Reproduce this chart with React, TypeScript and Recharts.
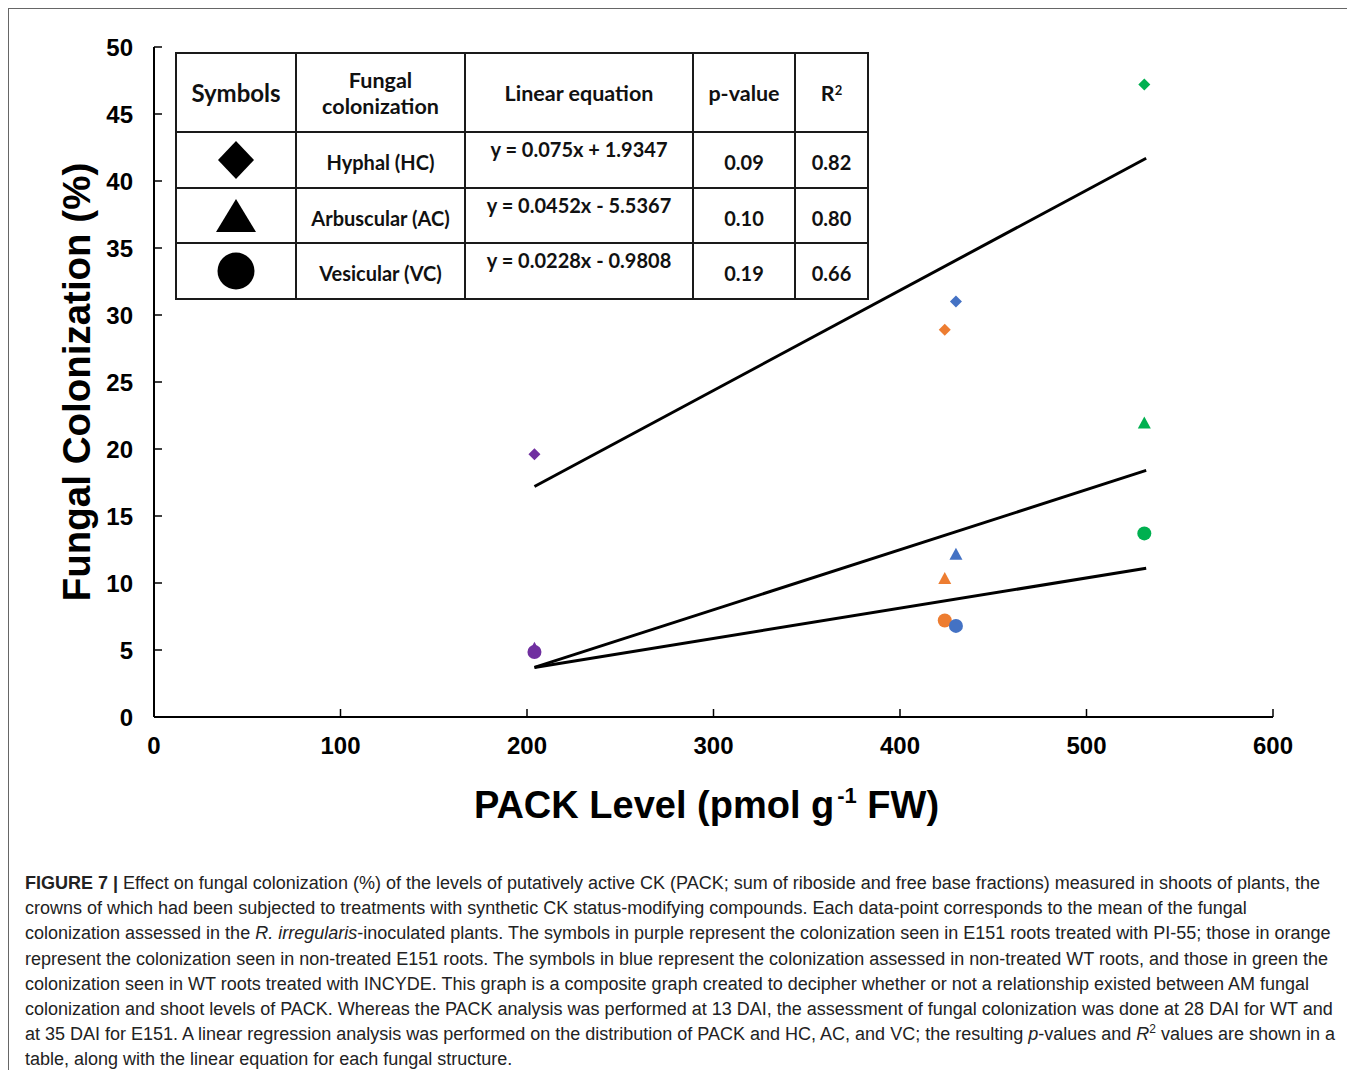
import React from 'react';
import { ScatterChart, Scatter, XAxis, YAxis, Cell } from 'recharts';

// treatments: E151 + PI-55, non-treated E151, non-treated WT, WT + INCYDE
const treatmentColors = ['#7030A0', '#ED7D31', '#4472C4', '#00B050'];
const packLevel = [204, 424, 430, 531];
const hyphal = [19.6, 28.9, 31.0, 47.2];
const arbuscular = [5.1, 10.3, 12.1, 21.9];
const vesicular = [4.85, 7.2, 6.8, 13.7];

// regression line end points
const fitPack = [204, 532];
const hcFit = [17.2, 41.7];
const acFit = [3.7, 18.4];
const vcFit = [3.7, 11.1];

const xTicks = [0, 100, 200, 300, 400, 500, 600];
const yTicks = [0, 5, 10, 15, 20, 25, 30, 35, 40, 45, 50];

const structures = ['Hyphal (HC)', 'Arbuscular (AC)', 'Vesicular (VC)'];
const equations = ['y = 0.075x + 1.9347', 'y = 0.0452x - 5.5367', 'y = 0.0228x - 0.9808'];
const pValues = ['0.09', '0.10', '0.19'];
const rSquared = ['0.82', '0.80', '0.66'];

const toPoints = (ys: number[]) => packLevel.map((x, i) => ({ x, y: ys[i], color: treatmentColors[i] }));
const toLine = (ys: number[]) => fitPack.map((x, i) => ({ x, y: ys[i] }));

const DiamondShape = (props: any) => {
  const { cx, cy, fill } = props;
  const r = 6;
  return <polygon points={`${cx},${cy - r} ${cx + r},${cy} ${cx},${cy + r} ${cx - r},${cy}`} fill={fill} />;
};

const TriangleShape = (props: any) => {
  const { cx, cy, fill } = props;
  return <polygon points={`${cx},${cy - 7} ${cx + 6.5},${cy + 5} ${cx - 6.5},${cy + 5}`} fill={fill} />;
};

const CircleShape = (props: any) => {
  const { cx, cy, fill } = props;
  return <circle cx={cx} cy={cy} r={7} fill={fill} />;
};

const NoShape = () => <g />;

const tickStyle = { fontFamily: 'Liberation Sans, Arial, sans-serif', fontSize: 24, fontWeight: 700, fill: '#000' };

const SymbolIcon = ({ kind }: { kind: string }) => (
  <svg width={44} height={42} style={{ display: 'block', margin: '0 auto' }}>
    {kind === 'diamond' && <polygon points="22,2 40,21 22,40 4,21" fill="#000" />}
    {kind === 'triangle' && <polygon points="22,4 42,37 2,37" fill="#000" />}
    {kind === 'circle' && <circle cx={22} cy={21} r={18.5} fill="#000" />}
  </svg>
);

const cellBorder = '2px solid #1a1a1a';

const StatsTable = () => {
  const kinds = ['diamond', 'triangle', 'circle'];
  const rowHeights = [56, 55, 56];
  const td: React.CSSProperties = { border: cellBorder, textAlign: 'center', verticalAlign: 'middle', padding: 0 };
  const th: React.CSSProperties = { ...td, fontSize: 21.5 };
  return (
    <table
      style={{
        position: 'absolute',
        left: 166,
        top: 43,
        borderCollapse: 'collapse',
        tableLayout: 'fixed',
        background: '#fff',
        fontFamily: 'Lato, "Open Sans", sans-serif',
        fontWeight: 700,
        fontSize: 20,
        color: '#111',
        lineHeight: '26px',
      }}
    >
      <colgroup>
        <col style={{ width: 120 }} />
        <col style={{ width: 169 }} />
        <col style={{ width: 228 }} />
        <col style={{ width: 102 }} />
        <col style={{ width: 73 }} />
      </colgroup>
      <tbody>
        <tr style={{ height: 79 }}>
          <td style={{ ...th, fontSize: 24 }}>Symbols</td>
          <td style={th}>Fungal<br />colonization</td>
          <td style={th}>Linear equation</td>
          <td style={th}>p-value</td>
          <td style={th}>R<sup style={{ fontSize: 13, verticalAlign: 'top', lineHeight: '20px' }}>2</sup></td>
        </tr>
        {structures.map((s, i) => (
          <tr key={s} style={{ height: rowHeights[i] }}>
            <td style={td}><SymbolIcon kind={kinds[i]} /></td>
            <td style={{ ...td, paddingTop: 4 }}>{s}</td>
            <td style={{ ...td, verticalAlign: 'top', paddingTop: 3 }}>{equations[i]}</td>
            <td style={{ ...td, paddingTop: 4 }}>{pValues[i]}</td>
            <td style={{ ...td, paddingTop: 4 }}>{rSquared[i]}</td>
          </tr>
        ))}
      </tbody>
    </table>
  );
};

const captionLines: React.ReactNode[] = [
  <><b>FIGURE 7 |</b> Effect on fungal colonization (%) of the levels of putatively active CK (PACK; sum of riboside and free base fractions) measured in shoots of plants, the</>,
  <>crowns of which had been subjected to treatments with synthetic CK status-modifying compounds. Each data-point corresponds to the mean of the fungal</>,
  <>colonization assessed in the <i>R. irregularis</i>-inoculated plants. The symbols in purple represent the colonization seen in E151 roots treated with PI-55; those in orange</>,
  <>represent the colonization seen in non-treated E151 roots. The symbols in blue represent the colonization assessed in non-treated WT roots, and those in green the</>,
  <>colonization seen in WT roots treated with INCYDE. This graph is a composite graph created to decipher whether or not a relationship existed between AM fungal</>,
  <>colonization and shoot levels of PACK. Whereas the PACK analysis was performed at 13 DAI, the assessment of fungal colonization was done at 28 DAI for WT and</>,
  <>at 35 DAI for E151. A linear regression analysis was performed on the distribution of PACK and HC, AC, and VC; the resulting <i>p</i>-values and <i>R</i><sup style={{ fontSize: 12, lineHeight: 0 }}>2</sup> values are shown in a</>,
  <>table, along with the linear equation for each fungal structure.</>,
];

export default function App() {
  return (
    <div
      style={{
        position: 'relative',
        width: 1340,
        height: 1062,
        borderLeft: '1px solid #666',
        borderTop: '1px solid #666',
        boxSizing: 'border-box',
        background: '#fff',
      }}
    >
      <div style={{ position: 'absolute', left: 0, top: 0 }}>
        <ScatterChart width={1330} height={860} margin={{ top: 38, right: 66, bottom: 122, left: 85 }}>
          <XAxis
            type="number"
            dataKey="x"
            domain={[0, 600]}
            ticks={xTicks}
            height={30}
            axisLine={{ stroke: '#000', strokeWidth: 2 }}
            tickLine={{ stroke: '#000', strokeWidth: 1.5 }}
            tickSize={-8}
            tickMargin={28}
            tick={tickStyle}
            label={{
              content: (p: any) => {
                const vb = p.viewBox;
                return (
                  <text
                    x={vb.x + vb.width / 2 - 7}
                    y={vb.y + 101}
                    textAnchor="middle"
                    style={{ fontFamily: 'Liberation Sans, Arial, sans-serif', fontSize: 38, fontWeight: 700, fill: '#000' }}
                  >
                    PACK Level (pmol g<tspan fontSize={22} dy={-15} dx={3}>-1</tspan>
                    <tspan dy={15}> FW)</tspan>
                  </text>
                );
              },
            }}
          />
          <YAxis
            type="number"
            dataKey="y"
            domain={[0, 50]}
            ticks={yTicks}
            width={60}
            axisLine={{ stroke: '#000', strokeWidth: 2 }}
            tickLine={{ stroke: '#000', strokeWidth: 1.5 }}
            tickSize={-8}
            tickMargin={29}
            tick={tickStyle}
            label={{
              content: (p: any) => {
                const vb = p.viewBox;
                const cx = vb.x - 4;
                const cy = vb.y + vb.height / 2;
                return (
                  <text
                    x={cx}
                    y={cy}
                    textAnchor="middle"
                    transform={`rotate(-90 ${cx} ${cy})`}
                    style={{ fontFamily: 'Liberation Sans, Arial, sans-serif', fontSize: 38.5, fontWeight: 700, fill: '#000' }}
                  >
                    Fungal Colonization (%)
                  </text>
                );
              },
            }}
          />
          <Scatter data={toLine(hcFit)} line={{ stroke: '#000', strokeWidth: 3 }} shape={NoShape} isAnimationActive={false} />
          <Scatter data={toLine(acFit)} line={{ stroke: '#000', strokeWidth: 3 }} shape={NoShape} isAnimationActive={false} />
          <Scatter data={toLine(vcFit)} line={{ stroke: '#000', strokeWidth: 3 }} shape={NoShape} isAnimationActive={false} />
          <Scatter data={toPoints(hyphal)} shape={DiamondShape} isAnimationActive={false}>
            {packLevel.map((_, i) => <Cell key={i} fill={treatmentColors[i]} />)}
          </Scatter>
          <Scatter data={toPoints(arbuscular)} shape={TriangleShape} isAnimationActive={false}>
            {packLevel.map((_, i) => <Cell key={i} fill={treatmentColors[i]} />)}
          </Scatter>
          <Scatter data={toPoints(vesicular)} shape={CircleShape} isAnimationActive={false}>
            {packLevel.map((_, i) => <Cell key={i} fill={treatmentColors[i]} />)}
          </Scatter>
        </ScatterChart>
      </div>
      <StatsTable />
      <div
        style={{
          position: 'absolute',
          left: 16,
          top: 862,
          fontFamily: 'Liberation Sans, Arial, sans-serif',
          fontSize: 18,
          lineHeight: '25.2px',
          color: '#222',
          whiteSpace: 'nowrap',
        }}
      >
        {captionLines.map((l, i) => (
          <div key={i}>{l}</div>
        ))}
      </div>
    </div>
  );
}
